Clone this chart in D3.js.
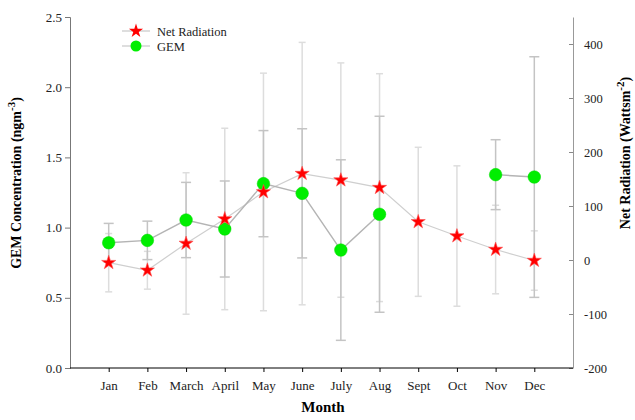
<!DOCTYPE html>
<html><head><meta charset="utf-8">
<script src="https://cdn.jsdelivr.net/npm/d3@7"></script>
<style>body{margin:0;background:#fff}svg{display:block}text{font-family:"Liberation Serif","Times New Roman",serif}</style>
</head><body><svg id="c" width="635" height="420"></svg>
<script>
const months = ["Jan","Feb","March","April","May","June","July","Aug","Sept","Oct","Nov","Dec"];
const gemValues = [0.892,0.909,1.054,0.99,1.313,1.244,0.84,1.095,null,null,1.377,1.36];
const gemErrors = [0.138,0.137,0.268,0.342,0.378,0.46,0.643,0.698,null,null,0.249,0.857];
const netValues = [-5,-19,30.6,76,126,160,148,134,70.7,44.4,19.4,-1];
const netErrors = [54,35,131,168,220,243,217,211,138,130,82,55];
const leftTicks = [0,0.5,1,1.5,2,2.5];
const rightTicks = [-200,-100,0,100,200,300,400];

const svg = d3.select("#c");
const L = 70, R = 573, T = 17, B = 368;
const x = d3.scalePoint().domain(months).range([L,R]).padding(1);
const yL = d3.scaleLinear().domain([0,2.5]).range([B,T]);
const yR = d3.scaleLinear().domain([-200,450]).range([B,T]);

// axes
const gL = svg.append("g").attr("transform",`translate(${L},0)`)
  .call(d3.axisLeft(yL).tickValues(leftTicks).tickFormat(d3.format(".1f")).tickSize(5).tickPadding(3));
gL.select(".domain").attr("stroke","#777");
gL.selectAll(".tick line").attr("stroke","#777");
gL.selectAll("text").attr("font-size",13).attr("fill","#222").attr("font-family","Liberation Serif");

const gR = svg.append("g").attr("transform",`translate(${R},0)`)
  .call(d3.axisRight(yR).tickValues(rightTicks).tickFormat(d=>String(d)).tickSize(0).tickPadding(11));
gR.select(".domain").attr("stroke","#999");
gR.selectAll(".tick").append("line").attr("x1",-4).attr("x2",0).attr("stroke","#888");
gR.selectAll("text").attr("font-size",12.5).attr("fill","#222").attr("font-family","Liberation Serif");

const gX = svg.append("g").attr("transform",`translate(0,${B})`)
  .call(d3.axisBottom(x).tickSize(4).tickPadding(9));
gX.select(".domain").attr("d",`M${L},0H${R}`).attr("stroke","#000");
gX.selectAll(".tick line").attr("stroke","#000");
gX.selectAll("text").attr("font-size",13).attr("fill","#222").attr("font-family","Liberation Serif");

// titles
svg.append("text").attr("x",323).attr("y",412).attr("text-anchor","middle")
  .attr("font-size",15).attr("font-weight","bold").text("Month");
const lt = svg.append("text").attr("transform","translate(21,183) rotate(-90)").attr("text-anchor","middle")
  .attr("font-size",14).attr("font-weight","bold");
lt.append("tspan").text("GEM Concentration (ngm");
lt.append("tspan").attr("dy",-6).attr("font-size",11).text("-3");
lt.append("tspan").attr("dy",6).text(")");
const rt = svg.append("text").attr("transform","translate(630,153) rotate(-90)").attr("text-anchor","middle")
  .attr("font-size",14).attr("font-weight","bold");
rt.append("tspan").text("Net Radiation (Wattsm");
rt.append("tspan").attr("dy",-6).attr("font-size",11).text("-2");
rt.append("tspan").attr("dy",6).text(")");

// data rows
const netData = months.map((m,i)=>({m,v:netValues[i],e:netErrors[i]}));
const gemData = months.map((m,i)=>({m,v:gemValues[i],e:gemErrors[i]}));

function errBars(data, y, color, w, cap){
  const g = svg.append("g").attr("stroke",color).attr("stroke-width",w);
  data.filter(d=>d.v!=null).forEach(d=>{
    const cx = x(d.m), y1 = y(d.v+d.e), y2 = y(d.v-d.e);
    g.append("line").attr("x1",cx).attr("x2",cx).attr("y1",y1).attr("y2",y2);
    g.append("line").attr("x1",cx-cap).attr("x2",cx+cap).attr("y1",y1).attr("y2",y1);
    g.append("line").attr("x1",cx-cap).attr("x2",cx+cap).attr("y1",y2).attr("y2",y2);
  });
}
errBars(netData, yR, "#dddddd", 1.5, 3.5);
errBars(gemData, yL, "#c4c4c4", 1.5, 5);

const lineNet = d3.line().x(d=>x(d.m)).y(d=>yR(d.v));
const lineGem = d3.line().defined(d=>d.v!=null).x(d=>x(d.m)).y(d=>yL(d.v));
svg.append("path").datum(netData).attr("d",lineNet).attr("fill","none").attr("stroke","#cfcfcf").attr("stroke-width",1.2);
svg.append("path").datum(gemData).attr("d",lineGem).attr("fill","none").attr("stroke","#b4b4b4").attr("stroke-width",1.4);

const star = d3.symbol().type(d3.symbolStar).size(62);
svg.append("g").selectAll("path").data(gemData.filter(d=>d.v!=null)).join("circle")
  .attr("cx",d=>x(d.m)).attr("cy",d=>yL(d.v)).attr("r",6.3).attr("fill","#00ee00").attr("stroke","#00dd00").attr("stroke-width",0.5);
svg.append("g").selectAll("path").data(netData).join("path")
  .attr("d",star).attr("transform",d=>`translate(${x(d.m)},${yR(d.v)})`)
  .attr("fill","#ff0000").attr("stroke","#ff5050").attr("stroke-width",0.6);

// legend
const lg = svg.append("g");
[["Net Radiation",31],["GEM",46]].forEach(([name,ly],i)=>{
  lg.append("line").attr("x1",122).attr("x2",150).attr("y1",ly).attr("y2",ly).attr("stroke","#c8c8c8").attr("stroke-width",1.2);
  if(i===0) lg.append("path").attr("d",star).attr("transform",`translate(136,${ly})`).attr("fill","#ff0000");
  else lg.append("circle").attr("cx",136).attr("cy",ly).attr("r",5.5).attr("fill","#00ee00");
  lg.append("text").attr("x",157).attr("y",ly+4.5).attr("font-size",12.5).attr("fill","#222").text(name);
});
</script></body></html>
